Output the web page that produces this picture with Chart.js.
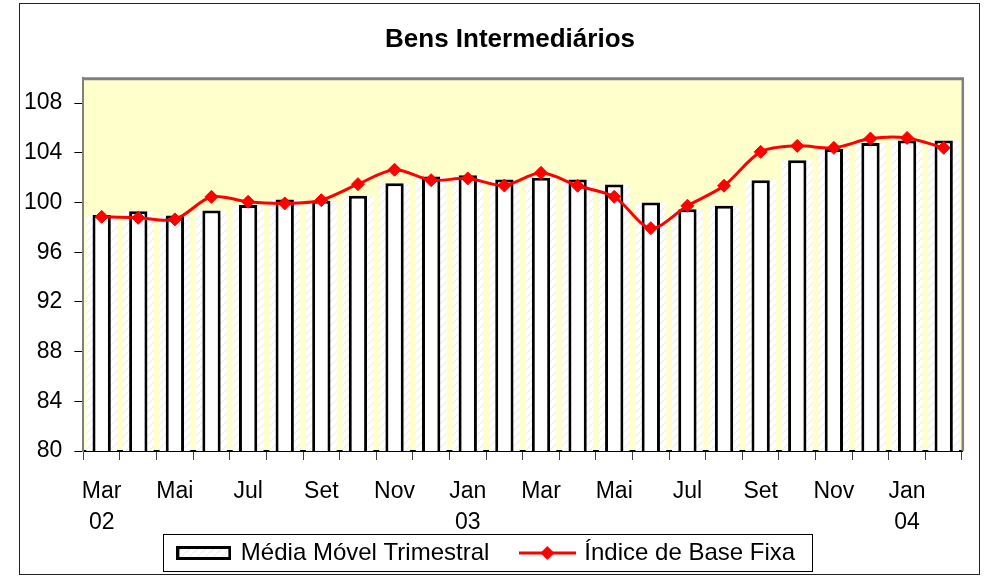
<!DOCTYPE html>
<html><head><meta charset="utf-8">
<script src="https://cdn.jsdelivr.net/npm/chart.js@4.4.1/dist/chart.umd.min.js"></script>
<style>html,body{margin:0;padding:0;background:#fff}#wrap{position:relative;width:987px;height:577px}</style>
</head><body><div id="wrap"><canvas id="c" width="987" height="577"></canvas></div>
<script>
const chartTitle = 'Bens Intermediários';
const seriesNames = ['Média Móvel Trimestral', 'Índice de Base Fixa'];
const categories = ['Mar 02','Abr 02','Mai 02','Jun 02','Jul 02','Ago 02','Set 02','Out 02','Nov 02','Dez 02','Jan 03','Fev 03',
                    'Mar 03','Abr 03','Mai 03','Jun 03','Jul 03','Ago 03','Set 03','Out 03','Nov 03','Dez 03','Jan 04','Fev 04'];
const monthLabels = ['Mar','','Mai','','Jul','','Set','','Nov','','Jan','','Mar','','Mai','','Jul','','Set','','Nov','','Jan',''];
const yearLabels  = ['02','','','','','','','','','','03','','','','','','','','','','','','04',''];
const movingAverage = [99.0, 99.3, 98.95, 99.35, 99.8, 100.25, 100.15, 100.55, 101.55, 102.1, 102.2, 101.85,
                       102.0, 101.85, 101.45, 100.0, 99.45, 99.75, 101.8, 103.4, 104.3, 104.8, 105.0, 105.0];
const fixedBaseIndex = [98.85, 98.77, 98.64, 100.46, 100.06, 99.93, 100.19, 101.48, 102.64, 101.8, 101.94, 101.37,
                        102.39, 101.35, 100.46, 97.94, 99.74, 101.35, 104.08, 104.56, 104.4, 105.15, 105.2, 104.4];
const yTicks = [80, 84, 88, 92, 96, 100, 104, 108];
const yMin = 80, yMax = 110;

const FONT = "'Liberation Sans', Arial, sans-serif";

function makeHatch() {
  const p = document.createElement('canvas'); p.width = 8; p.height = 8;
  const g = p.getContext('2d');
  g.fillStyle = '#ffffff'; g.fillRect(0, 0, 8, 8);
  g.strokeStyle = '#f1f1f1'; g.lineWidth = 1.5;
  g.beginPath(); g.moveTo(0, 8); g.lineTo(8, 0); g.stroke();
  return document.getElementById('c').getContext('2d').createPattern(p, 'repeat');
}
const hatch = makeHatch();

function barSwatch() {
  const s = document.createElement('canvas'); s.width = 55; s.height = 14;
  const g = s.getContext('2d');
  g.fillStyle = hatch; g.fillRect(0, 0, 55, 14);
  g.strokeStyle = '#000'; g.lineWidth = 3; g.strokeRect(1.5, 1.5, 52, 11);
  return s;
}
function lineSwatch() {
  const s = document.createElement('canvas'); s.width = 57; s.height = 16;
  const g = s.getContext('2d');
  g.strokeStyle = '#ff0000'; g.lineWidth = 3;
  g.beginPath(); g.moveTo(0, 8); g.lineTo(57, 8); g.stroke();
  g.fillStyle = '#ff0000';
  g.beginPath(); g.moveTo(28.5, 1); g.lineTo(35.5, 8); g.lineTo(28.5, 15); g.lineTo(21.5, 8); g.closePath(); g.fill();
  return s;
}
const swatches = [barSwatch(), lineSwatch()];

const LEGEND_LIFT = 46.4;
const deco = {
  id: 'deco',
  beforeLayout(chart) {
    const lg = chart.legend;
    if (lg && !lg._lifted) {
      const f = lg.fit;
      lg.fit = function () { f.call(this); this.height -= LEGEND_LIFT; };
      lg._lifted = true;
    }
  },
  afterLayout(chart) {
    if (chart.titleBlock) { chart.titleBlock.left += 23; chart.titleBlock.right += 23; }
    const lg = chart.legend;
    if (lg) { lg.top -= LEGEND_LIFT; }
  },
  beforeDraw(chart) {
    const {ctx, chartArea: a} = chart;
    ctx.save();
    ctx.fillStyle = '#ffffff'; ctx.fillRect(0, 0, chart.width, chart.height);
    ctx.fillStyle = '#ffffcc'; ctx.fillRect(a.left, a.top, a.right - a.left, a.bottom - a.top);
    ctx.restore();
  },
  beforeDatasetsDraw(chart) {
    const {ctx, chartArea: a} = chart;
    ctx.save();
    ctx.strokeStyle = '#808080';
    ctx.lineWidth = 3; ctx.beginPath(); ctx.moveTo(a.left - 1, a.top + 0.5); ctx.lineTo(a.right + 2, a.top + 0.5); ctx.stroke();
    ctx.lineWidth = 2.5; ctx.beginPath(); ctx.moveTo(a.right + 0.8, a.top); ctx.lineTo(a.right + 0.8, a.bottom); ctx.stroke();
    ctx.restore();
  },
  afterDraw(chart) {
    const ctx = chart.ctx;
    ctx.save();
    ctx.strokeStyle = '#222'; ctx.lineWidth = 1;
    ctx.strokeRect(19.5, 3.5, 960, 571);
    const hb = chart.legend && chart.legend.legendHitBoxes;
    if (hb && hb.length) {
      const f = hb[0], l = hb[hb.length - 1];
      const x0 = Math.round(f.left - 16) + 0.5, x1 = Math.round(l.left + l.width + 16.6) + 0.5;
      const y0 = Math.round(f.top - 7) + 0.5, y1 = Math.round(f.top + f.height + 6) + 0.5;
      ctx.strokeStyle = '#000'; ctx.lineWidth = 1;
      ctx.strokeRect(x0, y0, x1 - x0, y1 - y0);
    }
    ctx.restore();
  }
};

new Chart(document.getElementById('c'), {
  type: 'bar',
  data: {
    labels: categories,
    datasets: [
      { type: 'line', label: seriesNames[1], data: fixedBaseIndex, order: 1,
        borderColor: '#ff0000', borderWidth: 3, tension: 0.3, fill: false,
        pointStyle: 'rectRot', pointRadius: 6.5, pointBorderWidth: 1,
        pointBackgroundColor: '#ff0000', pointBorderColor: '#ff0000' },
      { type: 'bar', label: seriesNames[0], data: movingAverage, order: 2, grouped: false,
        backgroundColor: '#ffffff', borderColor: '#000000', borderWidth: 3,
        barPercentage: 0.5, categoryPercentage: 1 },
      { type: 'bar', label: '', data: movingAverage, order: 3, grouped: false,
        backgroundColor: hatch, borderWidth: 0,
        barPercentage: 0.84, categoryPercentage: 1 }
    ]
  },
  options: {
    responsive: false, animation: false, devicePixelRatio: 1,
    layout: { padding: { left: 12, right: 25, top: 4, bottom: 2 } },
    plugins: {
      title: { display: true, text: chartTitle, color: '#000',
               font: { family: FONT, size: 26, weight: 'bold', lineHeight: 1.2 },
               padding: { top: 19.9, bottom: 23.2 } },
      legend: { position: 'bottom',
        labels: { usePointStyle: true, pointStyleWidth: 50, padding: 33, color: '#000',
                  font: { family: FONT, size: 24 },
                  generateLabels: () => seriesNames.map((t, i) => ({
                    text: t, pointStyle: swatches[i], datasetIndex: i === 0 ? 1 : 0,
                    fillStyle: 'rgba(0,0,0,0)', strokeStyle: 'rgba(0,0,0,0)', lineWidth: 0,
                    hidden: false, fontColor: '#000' })) } },
      tooltip: { enabled: false }
    },
    scales: {
      x: {
        grid: { display: true, drawOnChartArea: false, tickLength: 9, color: '#404040', offset: true },
        border: { display: true, color: '#000', width: 2 },
        ticks: { autoSkip: false, maxRotation: 0, minRotation: 0, padding: 15.5, color: '#000',
                 font: { family: FONT, size: 23, lineHeight: 1.378 },
                 callback: (v, i) => yearLabels[i] ? [monthLabels[i], yearLabels[i]] : monthLabels[i] }
      },
      y: {
        min: yMin, max: yMax,
        afterBuildTicks: s => { s.ticks = yTicks.map(v => ({ value: v })); },
        grid: { display: true, drawOnChartArea: false, tickLength: 9, color: '#000' },
        border: { display: true, color: '#808080', width: 2 },
        ticks: { padding: 12, color: '#000', font: { family: FONT, size: 23 } }
      }
    }
  },
  plugins: [deco]
});
</script>
</body></html>
